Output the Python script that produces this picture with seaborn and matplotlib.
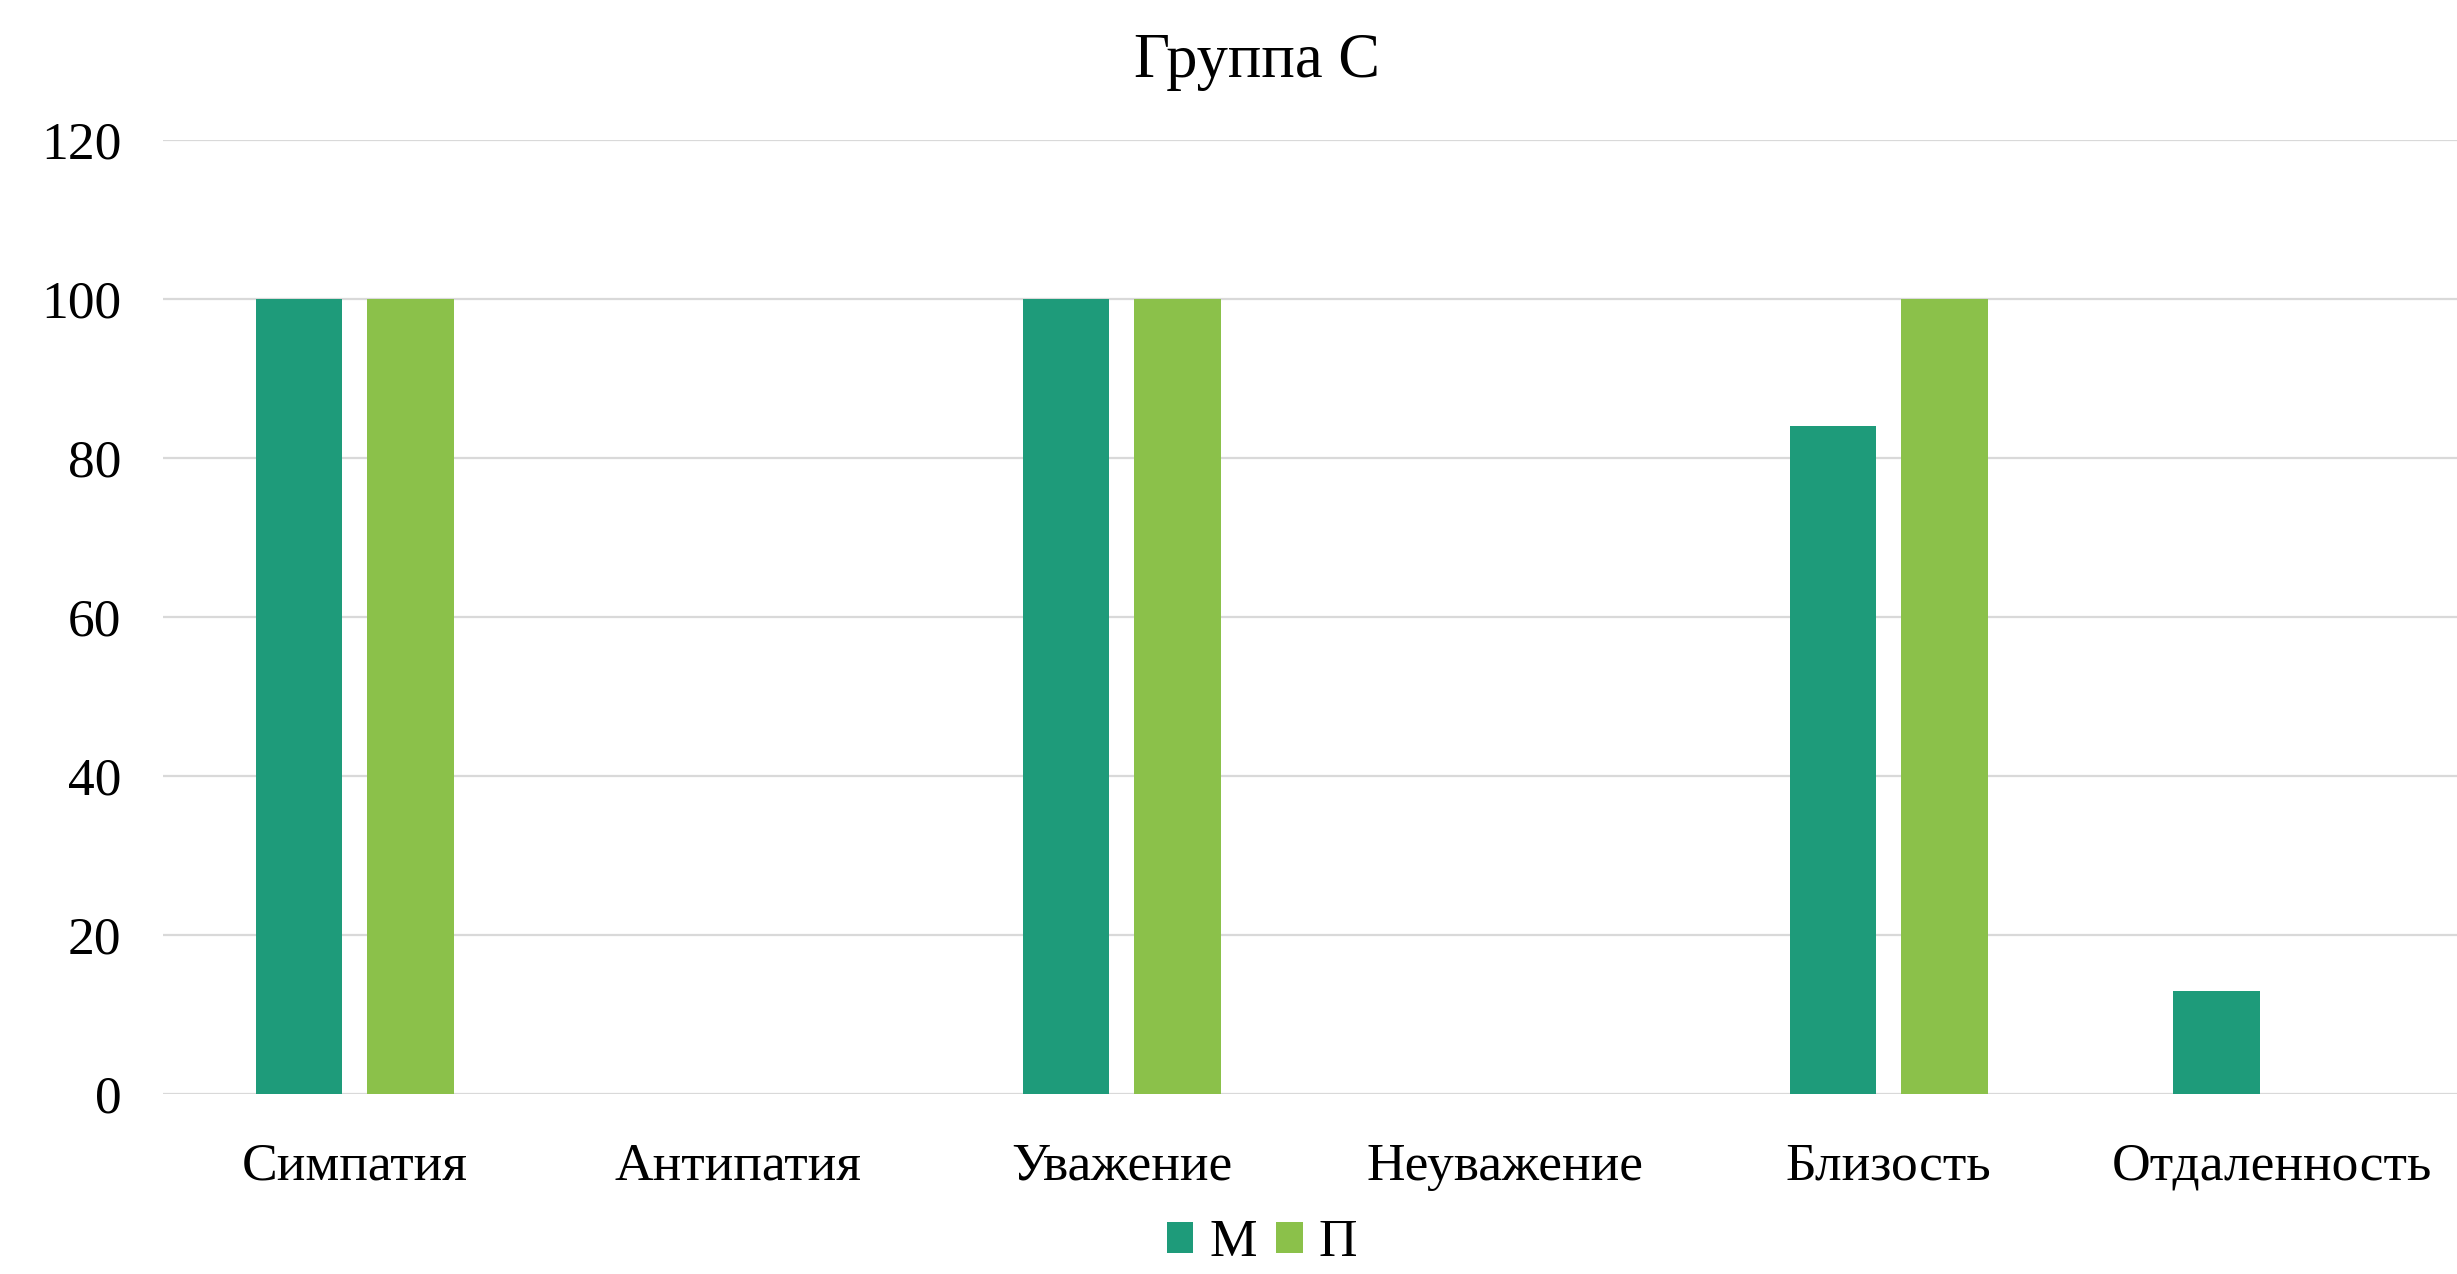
import matplotlib
matplotlib.use("Agg")
import matplotlib.pyplot as plt
import pandas as pd
import seaborn as sns

categories = ["Симпатия", "Антипатия", "Уважение", "Неуважение", "Близость", "Отдаленность"]
series_names = ["М", "П"]
values_m = [100, 0, 100, 0, 84, 13]
values_p = [100, 0, 100, 0, 100, 0]
colors = ["#1E9B7A", "#8BC14A"]
yticks = [0, 20, 40, 60, 80, 100, 120]

df = pd.DataFrame({
    "category": categories * 2,
    "series": [series_names[0]] * len(categories) + [series_names[1]] * len(categories),
    "value": values_m + values_p,
})

sns.set_style("white")
plt.rcParams["font.family"] = ["Liberation Serif", "DejaVu Serif"]
plt.rcParams["text.color"] = "black"
plt.rcParams["xtick.color"] = "black"
plt.rcParams["ytick.color"] = "black"

fig = plt.figure(figsize=(24.57, 12.74), dpi=100)
ax = fig.add_axes([0.0663, 0.1413, 0.9365, 0.7487])

sns.barplot(data=df, x="category", y="value", hue="series", order=categories,
            hue_order=series_names, palette=colors, width=0.58, gap=0.22,
            saturation=1, linewidth=0, ax=ax)

ax.set_ylim(0, 120)
ax.set_yticks(yticks)
ax.set_xlim(-0.5, len(categories) - 0.5)
ax.yaxis.grid(True, color="#D9D9D9", linewidth=1.6)
ax.set_axisbelow(True)
for s in ax.spines.values():
    s.set_visible(False)
ax.tick_params(axis="both", length=0, labelsize=38.5)
ax.tick_params(axis="y", pad=30)
ax.tick_params(axis="x", pad=35)
ax.set_xlabel("")
ax.set_ylabel("")

fig.text(0.5116, 0.951, "Группа С", fontsize=45, ha="center", va="center")

handles, labels = ax.get_legend_handles_labels()
ax.legend(handles, labels, loc="center", bbox_to_anchor=(0.5136, 0.024),
          bbox_transform=fig.transFigure, ncol=2, frameon=False, fontsize=38.5,
          handlelength=0.5, handleheight=0.5, handletextpad=0.3, columnspacing=0.35)

fig.savefig("out.png", dpi=100)
